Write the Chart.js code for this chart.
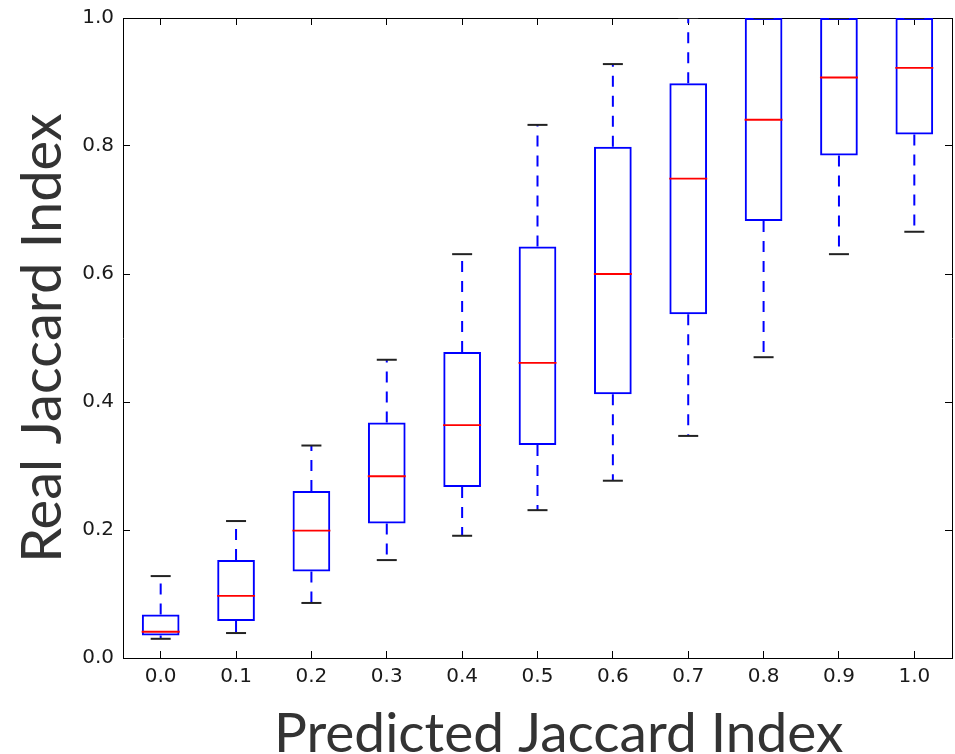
<!DOCTYPE html>
<html lang="en">
<head>
    <meta charset="UTF-8">
    <title>Predicted vs Real Jaccard Index</title>
    <script src="https://cdn.jsdelivr.net/npm/chart.js"></script>
    <style>
        body {
            margin: 0;
            padding: 0;
            background: #fff;
        }
        #chart-box {
            width: 955px;
            height: 754px;
        }
    </style>
</head>
<body>
    <div id="chart-box">
        <canvas id="boxChart" width="955" height="754"></canvas>
    </div>
    <script>
        // predicted jaccard index bins
        const labels = ['0.0', '0.1', '0.2', '0.3', '0.4', '0.5', '0.6', '0.7', '0.8', '0.9', '1.0'];
        // box plot stats
        const whiskerLow  = [0.030, 0.039, 0.086, 0.153, 0.191, 0.231, 0.277, 0.347, 0.470, 0.631, 0.666];
        const q1          = [0.035, 0.058, 0.135, 0.210, 0.267, 0.333, 0.412, 0.537, 0.683, 0.785, 0.818];
        const median      = [0.041, 0.097, 0.199, 0.284, 0.364, 0.461, 0.600, 0.749, 0.841, 0.907, 0.922];
        const q3          = [0.068, 0.153, 0.261, 0.368, 0.478, 0.643, 0.799, 0.898, 1.000, 1.000, 1.000];
        const whiskerHigh = [0.128, 0.214, 0.332, 0.466, 0.631, 0.833, 0.928, 1.000, 1.000, 1.000, 1.000];
        const yTicks = [0.0, 0.2, 0.4, 0.6, 0.8, 1.0];

        // whiskers: one segment per box, split with a null so they don't join up
        const whiskerData = [];
        labels.forEach((lab, i) => {
            whiskerData.push({ x: lab, y: q3[i] }, { x: lab, y: whiskerHigh[i] }, { x: lab, y: null });
            whiskerData.push({ x: lab, y: q1[i] }, { x: lab, y: whiskerLow[i] }, { x: lab, y: null });
        });
        const capData = [];
        labels.forEach((lab, i) => {
            capData.push({ x: lab, y: whiskerHigh[i] }, { x: lab, y: whiskerLow[i] });
        });
        const medianData = labels.map((lab, i) => ({ x: lab, y: median[i] }));
        const boxData = labels.map((lab, i) => [q1[i], q3[i]]);

        // matplotlib-style ticks pointing into the plot
        const innerTicks = {
            drawOnChartArea: false,
            drawTicks: true,
            tickLength: -7,
            color: '#000',
            lineWidth: 1
        };
        const frame = { display: true, color: '#000', width: 1 };
        const tickFont = { family: '"DejaVu Sans", sans-serif', size: 20 };
        const titleFont = { family: 'Lato, "Open Sans", sans-serif', size: 56, lineHeight: 0.7 };

        // pin the axis boxes so the plot area lands where the original is
        function pin(size, horizontal) {
            return scale => {
                if (horizontal) scale.height = size; else scale.width = size;
                scale.paddingTop = 0;
                scale.paddingBottom = 0;
                scale.paddingLeft = 0;
                scale.paddingRight = 0;
            };
        }

        const ctx = document.getElementById('boxChart').getContext('2d');
        new Chart(ctx, {
            type: 'bar',
            data: {
                labels: labels,
                datasets: [
                    {
                        type: 'line',
                        label: 'median',
                        data: medianData,
                        showLine: false,
                        pointStyle: 'line',
                        pointRadius: 19,
                        pointBorderColor: '#ff0000',
                        pointBorderWidth: 1.8,
                        xAxisID: 'x',
                        yAxisID: 'y'
                    },
                    {
                        type: 'line',
                        label: 'caps',
                        data: capData,
                        showLine: false,
                        pointStyle: 'line',
                        pointRadius: 10,
                        pointBorderColor: '#222',
                        pointBorderWidth: 2,
                        xAxisID: 'x',
                        yAxisID: 'y'
                    },
                    {
                        label: 'box',
                        data: boxData,
                        backgroundColor: 'rgba(0,0,0,0)',
                        borderColor: '#0000ff',
                        borderWidth: 2,
                        borderSkipped: false,
                        barPercentage: 0.5,
                        categoryPercentage: 1.0,
                        xAxisID: 'x',
                        yAxisID: 'y'
                    },
                    {
                        type: 'line',
                        label: 'whiskers',
                        data: whiskerData,
                        borderColor: '#0000ff',
                        borderWidth: 2,
                        borderDash: [11, 9],
                        pointRadius: 0,
                        spanGaps: false,
                        xAxisID: 'x',
                        yAxisID: 'y'
                    }
                ]
            },
            options: {
                responsive: false,
                animation: false,
                events: [],
                layout: { padding: 0, autoPadding: false },
                plugins: {
                    legend: { display: false },
                    tooltip: { enabled: false }
                },
                scales: {
                    x: {
                        type: 'category',
                        position: 'bottom',
                        offset: true,
                        grid: Object.assign({ offset: false }, innerTicks),
                        border: frame,
                        ticks: {
                            autoSkip: false,
                            maxRotation: 0,
                            padding: 14,
                            color: '#1a1a1a',
                            font: tickFont
                        },
                        title: {
                            display: true,
                            text: '   Predicted Jaccard Index',
                            color: '#333',
                            padding: 0,
                            font: { family: 'Lato, "Open Sans", sans-serif', size: 55, lineHeight: 0.7 }
                        },
                        afterFit: pin(96, true)
                    },
                    x2: {
                        type: 'category',
                        position: 'top',
                        offset: true,
                        z: 1,
                        grid: Object.assign({ offset: false }, innerTicks),
                        border: frame,
                        ticks: { display: false },
                        afterFit: pin(18, true)
                    },
                    y: {
                        type: 'linear',
                        position: 'left',
                        min: 0,
                        max: 1,
                        grid: innerTicks,
                        border: frame,
                        afterBuildTicks: scale => { scale.ticks = yTicks.map(v => ({ value: v })); },
                        ticks: {
                            padding: 16,
                            color: '#1a1a1a',
                            font: tickFont,
                            callback: v => Number(v).toFixed(1)
                        },
                        title: {
                            display: true,
                            text: 'Real Jaccard Index',
                            color: '#333',
                            padding: { top: 23, bottom: 0 },
                            font: titleFont
                        },
                        afterFit: pin(123, false)
                    },
                    y2: {
                        type: 'linear',
                        position: 'right',
                        min: 0,
                        max: 1,
                        grid: innerTicks,
                        border: frame,
                        afterBuildTicks: scale => { scale.ticks = yTicks.map(v => ({ value: v })); },
                        ticks: { display: false },
                        afterFit: pin(3, false)
                    }
                }
            }
        });
    </script>
</body>
</html>
